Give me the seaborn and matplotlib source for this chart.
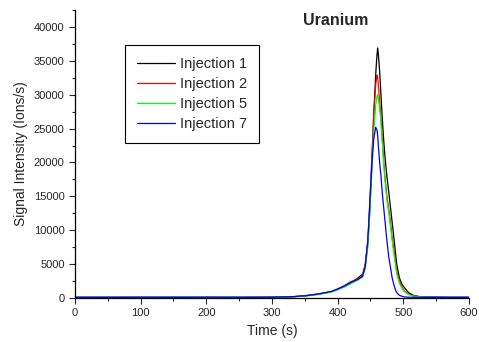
import numpy as np
import pandas as pd
import seaborn as sns
import matplotlib.pyplot as plt
from matplotlib.ticker import MultipleLocator

# time axis (s), shared by all runs
time = [0, 50, 100, 150, 200, 250, 300, 330, 350, 370, 390, 400, 410, 420,
        430, 438, 442, 446, 449, 452, 455, 458, 460, 461, 462, 464, 466, 468,
        470, 472, 475, 478, 480, 483, 485, 488, 490, 494, 498, 502, 508, 515,
        525, 540, 570, 600]

inj1 = [100, 110, 90, 120, 80, 100, 130, 180, 300, 550, 900, 1300, 1700, 2200,
        2900, 3500, 4800, 8000, 13000, 19500, 27000, 33000, 36000, 36900, 36000,
        33500, 30000, 26500, 23500, 21000, 18000, 15500, 13800, 11200, 9500,
        6800, 5000, 3000, 2000, 1500, 800, 400, 200, 150, 100, 100]
inj2 = [90, 100, 120, 80, 110, 90, 120, 170, 320, 600, 950, 1350, 1800, 2400,
        2800, 3300, 5000, 8500, 14000, 20500, 27000, 31500, 32900, 32500, 31500,
        29000, 26500, 23500, 20500, 18000, 15000, 13000, 11500, 9000, 7500,
        5500, 4000, 2500, 1600, 1000, 600, 300, 180, 120, 100, 90]
inj5 = [110, 90, 100, 130, 90, 110, 100, 160, 280, 500, 850, 1200, 1600, 2100,
        2600, 3100, 4300, 7500, 12500, 18500, 24500, 28500, 29800, 30000, 29500,
        28000, 26000, 23000, 20000, 17500, 14500, 12500, 11000, 8500, 7000,
        5000, 3600, 2200, 1400, 900, 500, 300, 170, 110, 90, 100]
inj7 = [100, 80, 110, 90, 120, 100, 110, 190, 320, 580, 950, 1300, 1750, 2300,
        2700, 3200, 4600, 8500, 14000, 19500, 23500, 25200, 24800, 24000, 22500,
        20000, 18000, 15500, 13500, 11500, 8500, 6000, 4800, 3000, 2200, 1200,
        800, 400, 250, 150, 120, 100, 110, 90, 100, 90]

labels = ["Injection 1", "Injection 2", "Injection 5", "Injection 7"]
colors = ["black", "red", "#00ff00", "blue"]

frames = []
for name, vals in zip(labels, [inj1, inj2, inj5, inj7]):
    frames.append(pd.DataFrame({"time": time, "signal": vals, "run": name}))
df = pd.concat(frames, ignore_index=True)

sns.set_style("ticks")
plt.rcParams['font.family'] = ['Liberation Sans', 'DejaVu Sans']

fig = plt.figure(figsize=(4.79, 3.42), dpi=100)
ax = fig.add_axes([0.1566, 0.1287, 0.8224, 0.842])

sns.lineplot(data=df, x="time", y="signal", hue="run", hue_order=labels,
             palette=colors, linewidth=0.9, ax=ax)

ax.set_xlim(0, 600)
ax.set_ylim(0, 42500)
ax.xaxis.set_major_locator(MultipleLocator(100))
ax.xaxis.set_minor_locator(MultipleLocator(50))
ax.yaxis.set_major_locator(MultipleLocator(5000))
ax.yaxis.set_minor_locator(MultipleLocator(2500))
ax.tick_params(which='major', direction='out', length=4, width=0.8, labelsize=8)
ax.tick_params(which='minor', direction='out', length=2.5, width=0.8)
sns.despine(ax=ax)
for s in ["left", "bottom"]:
    ax.spines[s].set_color("black")
    ax.spines[s].set_linewidth(0.9)

ax.set_xlabel("Time (s)", fontsize=10)
ax.set_ylabel("Signal Intensity (Ions/s)", fontsize=10)
ax.text(0.662, 0.962, "Uranium", transform=ax.transAxes, ha='center',
        va='center', fontsize=11.5, fontweight='bold')

leg = ax.legend(loc='upper left', bbox_to_anchor=(0.127, 0.878), fontsize=10.5,
                frameon=True, fancybox=False, framealpha=1, edgecolor='black',
                handlelength=2.6, handletextpad=0.35, borderpad=0.8,
                labelspacing=0.42, borderaxespad=0)
leg.get_frame().set_linewidth(0.8)

fig.savefig("out.png", dpi=100)
